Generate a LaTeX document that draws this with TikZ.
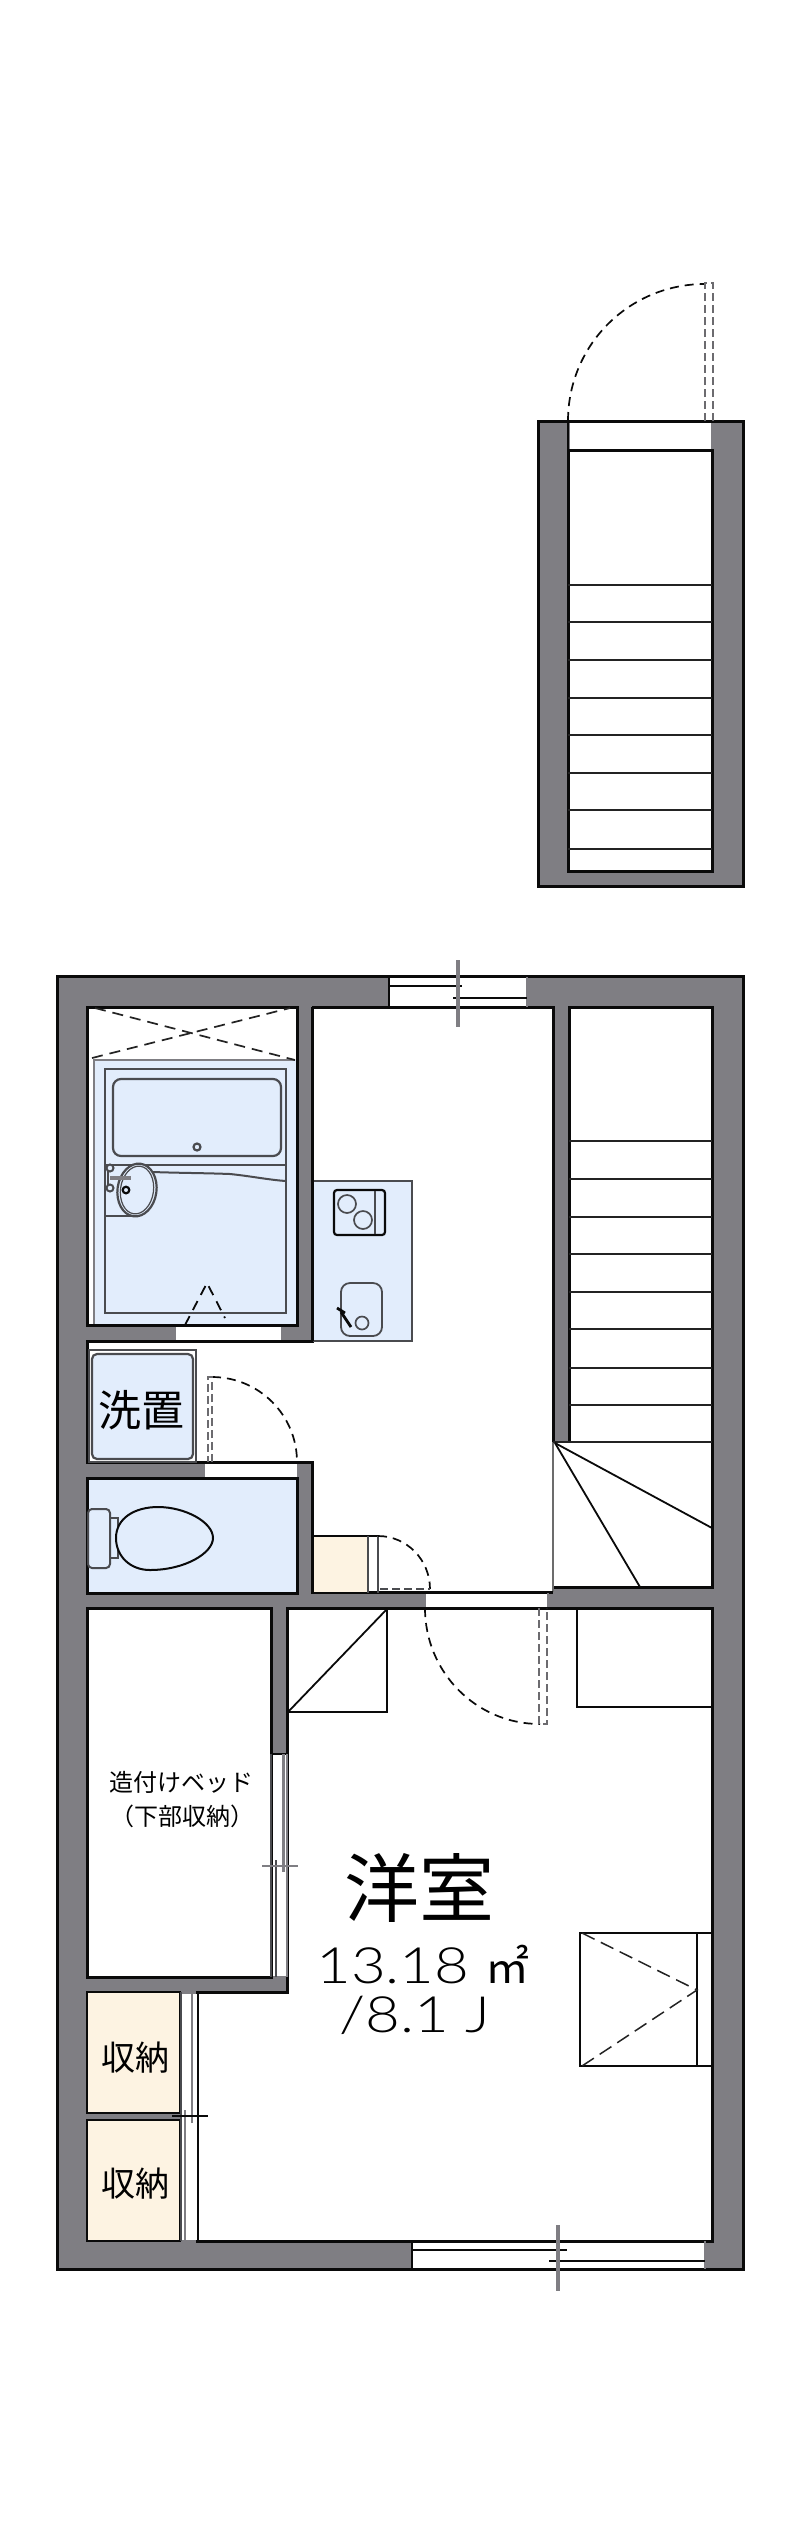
\documentclass[tikz,border=0pt]{standalone}
\usepackage{fontspec}
\newfontfamily\cjk{Noto Sans CJK JP}
\setmainfont{DejaVu Sans}
\newfontfamily\numf[FakeStretch=1.2]{Lato Light}
\definecolor{wallc}{HTML}{7F7E83}
\definecolor{bluec}{HTML}{E2EDFC}
\definecolor{beigec}{HTML}{FDF3E2}
\definecolor{linec}{HTML}{0A0A0A}
\definecolor{fixc}{HTML}{4A4B4F}
\tikzset{
  wallfill/.style={fill=wallc,draw=linec,line width=3pt,line join=miter},
  room/.style={fill=white,draw=linec,line width=3pt,line join=miter},
  bluerm/.style={fill=bluec,draw=linec,line width=3pt},
  beigerm/.style={fill=beigec,draw=linec,line width=2.4pt},
  opening/.style={fill=white,draw=none},
  thin line/.style={draw=linec,line width=1.8pt},
  tread/.style={draw=linec!90!white,line width=1.8pt},
  fixture/.style={draw=fixc,line width=2pt},
  ticks/.style={draw=wallc,line width=3.2pt},
  swing/.style={draw=linec,line width=1.7pt,dash pattern=on 9pt off 6pt},
  leaf/.style={draw=wallc!85!black,line width=2.4pt,dash pattern=on 8pt off 4pt},
  cross/.style={draw=linec!90!white,line width=1.7pt,dash pattern=on 11pt off 7pt},
  label/.style={inner sep=0pt,text=black,font=\cjk}
}
\begin{document}
\begin{tikzpicture}[x=1pt,y=-1pt]
\useasboundingbox (0,0) rectangle (800,2541);
\fill[white] (0,0) rectangle (800,2541);

% ---------- upper stair ----------
\filldraw[wallfill] (538,421) rectangle (743,886);
\filldraw[room] (568,450) rectangle (712,871);
\fill[opening] (569.5,422.5) rectangle (710.5,448.5);
\draw[draw=linec,line width=1.4pt] (568,421) -- (568,450);
\draw[draw=linec,line width=1.4pt,dash pattern=on 12pt off 2pt] (568,421) -- (712,421);
\foreach \y in {585,622,660,698,735,773,810,849} \draw[tread] (568,\y) -- (712,\y);
\draw[swing] (568,421) .. controls (568,345) and (629,284) .. (705,284);
\draw[leaf] (705,421) -- (705,283) -- (713,283) -- (713,421);

% ---------- main outline ----------
\filldraw[wallfill] (57,976) rectangle (743,2269);

% bath room
\filldraw[room] (87,1007) rectangle (297,1325);
% corridor
\fill[white] (312,1007) -- (553,1007) -- (553,1592) -- (312,1592) -- (312,1462) -- (87,1462) -- (87,1341) -- (312,1341) -- cycle;
\draw[draw=linec,line width=3pt] (312,1007) -- (553,1007) -- (553,1442);
\draw[draw=linec,line width=3pt] (312,1007) -- (312,1341) -- (87,1341) -- (87,1462) -- (297,1462);
\draw[draw=linec,line width=3pt] (297,1462) -- (312,1462) -- (312,1592) -- (553,1592);
% stair
\fill[white] (569,1007) -- (712,1007) -- (712,1587) -- (553,1587) -- (553,1442) -- (569,1442) -- cycle;
\draw[draw=linec,line width=3pt] (553,1587) -- (712,1587) -- (712,1007) -- (569,1007) -- (569,1442);
\draw[draw=linec!60!white,line width=1.8pt] (553,1442) -- (553,1592);
\foreach \y in {1141,1179,1217,1254,1292,1329,1368,1405,1442} \draw[tread] (569,\y) -- (712,\y);
\draw[tread] (553,1442) -- (569,1442);
\draw[thin line] (555,1443) -- (712,1528);
\draw[thin line] (555,1443) -- (640,1587);

% toilet room
\filldraw[bluerm] (87,1478) rectangle (297,1593);
% bedroom
\filldraw[room] (287,1608) -- (712,1608) -- (712,2241) -- (197,2241) -- (197,1992) -- (287,1992) -- cycle;
% bed
\filldraw[room] (87,1608) rectangle (271,1977);
% storages
\filldraw[beigerm] (87,1992) rectangle (180,2113);
\filldraw[beigerm] (87,2120) rectangle (180,2241);

% ---------- openings ----------
% top window
\fill[opening] (389,978) rectangle (527,1005.5);
\draw[draw=linec,line width=1.5pt] (389,977) -- (389,1007);
\draw[draw=wallc,line width=1.5pt] (527,977) -- (527,1007);
\draw[draw=linec,line width=1.6pt] (389,986) -- (462,986);
\draw[draw=linec,line width=1.6pt] (453,998) -- (527,998);
\draw[ticks] (458,960) -- (458,1027);
% bath door gap
\fill[opening] (176,1326.5) rectangle (281,1339.5);
% wash door gap
\fill[opening] (205,1463.5) rectangle (297,1476.5);
% main door gap
\fill[opening] (426,1593.5) rectangle (548,1606.5);
\draw[draw=wallc,line width=1.5pt] (548,1593) -- (548,1607);
\draw[draw=linec,line width=2pt] (426,1592) -- (553,1592);
\draw[draw=linec,line width=2pt] (426,1608) -- (548,1608);
% closet sliding gap
\fill[opening] (272.5,1754) rectangle (287.5,1975.5);
\draw[draw=linec,line width=2.4pt] (271,1754) -- (287,1754);
\draw[draw=fixc,line width=1.7pt] (271,1754) -- (271,1977);
\draw[draw=wallc,line width=1.4pt] (287,1754) -- (287,1977);
\draw[draw=wallc,line width=3pt] (283,1754) -- (283,1872);
\draw[draw=fixc,line width=1.6pt] (276,1860) -- (276,1977);
\draw[draw=wallc,line width=2pt] (262,1866) -- (298,1866);
% storage sliding gap
\fill[opening] (181.5,1993.5) rectangle (196.5,2239.5);
\draw[draw=fixc,line width=1.8pt] (181,1992) -- (181,2241);
\draw[draw=wallc,line width=2.6pt] (185,2110) -- (185,2241);
\draw[draw=wallc,line width=2.6pt] (192,1992) -- (192,2123);
\draw[draw=linec,line width=1.8pt] (172,2116) -- (208,2116);
% bottom window
\fill[opening] (412,2242.5) rectangle (705,2267.5);
\draw[draw=linec,line width=1.6pt] (412,2241) -- (412,2269);
\draw[draw=wallc,line width=1.6pt] (705,2241) -- (705,2269);
\draw[draw=linec,line width=1.6pt] (412,2250) -- (567,2250);
\draw[draw=linec,line width=1.6pt] (549,2261) -- (705,2261);
\draw[ticks] (558,2225) -- (558,2291);

% ---------- bath fixtures ----------
\fill[bluec] (94,1060) rectangle (295.5,1323.5);
\draw[draw=wallc,line width=2.2pt] (295,1060) -- (94,1060) -- (94,1324);
\draw[cross] (92,1058) -- (290,1008);
\draw[cross] (95,1008) -- (295,1060);
\draw[fixture,line width=2.2pt] (105,1069) rectangle (286,1313);
\draw[fixture,line width=2.2pt,rounded corners=8pt] (113,1079) rectangle (281,1156);
\draw[fixture,line width=2.2pt] (197,1147) circle (3.5);
\draw[fixture] (105,1165) -- (286,1165);
\draw[fixture] (153,1172) .. controls (180,1173) and (205,1173) .. (230,1174) .. controls (250,1176) and (270,1180) .. (286,1181);
\draw[fixture] (105,1216) -- (137,1216);
\draw[fixture,line width=2.2pt,fill=bluec,rotate around={-8:(137,1190)}] (137,1190) ellipse (19.5 and 26.5);
\draw[fixture,line width=1.2pt,rotate around={-8:(137,1190)}] (137,1190) ellipse (16.5 and 24);
\draw[draw=wallc,line width=4pt] (110,1178) -- (131,1178);
\draw[fixture,line width=2pt] (108,1168) -- (108,1188);
\draw[fixture,fill=bluec] (110,1168) circle (3.5);
\draw[fixture,fill=bluec] (110,1188) circle (3.5);
\draw[draw=linec,line width=2.2pt] (126,1190) circle (3.3);
\draw[draw=linec,line width=1.8pt,dash pattern=on 10pt off 7pt] (185,1325) -- (207,1283) -- (225,1318);

% ---------- kitchen ----------
\filldraw[fill=bluec,draw=fixc,line width=1.6pt] (313,1181) -- (412,1181) -- (412,1341) -- (313,1341);
\draw[draw=linec,line width=3pt] (312,1170) -- (312,1341);
\draw[draw=linec,line width=2.2pt,rounded corners=3pt] (334,1190) rectangle (385,1235);
\draw[draw=fixc,line width=1.8pt] (375,1191) -- (375,1234);
\draw[fixture,line width=1.7pt] (347,1204) circle (9);
\draw[fixture,line width=1.7pt] (363,1220) circle (9);
\draw[fixture,line width=1.8pt,rounded corners=9pt] (341,1283) rectangle (382,1336);
\draw[fixture,line width=1.7pt] (362,1323) circle (6.5);
\draw[draw=linec,line width=2.8pt] (341,1312) -- (351,1327);
\draw[draw=linec,line width=2.8pt] (337,1308) -- (345,1313);

% ---------- washer pan ----------
\draw[draw=fixc,fill=white,line width=1.2pt] (89,1350) rectangle (196,1462);
\filldraw[fill=bluec,draw=fixc,line width=2.2pt,rounded corners=5pt] (92,1354) rectangle (193,1459);
\node[label,font=\cjk\fontsize{43}{43}\selectfont] (wash) at (141,1410) {洗置};
% wash door
\draw[swing] (212,1377) .. controls (259,1377) and (297,1415) .. (297,1462);
\draw[leaf] (212,1462) -- (212,1377) -- (208,1377) -- (208,1462);

% ---------- toilet ----------
\draw[fixture,fill=bluec] (110,1518) rectangle (118,1558);
\draw[draw=fixc,line width=2pt,fill=bluec,rounded corners=4pt] (88,1509) rectangle (110,1568);
\draw[draw=linec,line width=2pt,fill=bluec] (116,1538) .. controls (116,1518) and (135,1507) .. (158,1507) .. controls (185,1507) and (213,1522) .. (213,1538) .. controls (213,1553) and (185,1570) .. (150,1570) .. controls (130,1570) and (116,1556) .. (116,1538) -- cycle;

% ---------- closet by the door ----------
\fill[beigec] (313.5,1537) rectangle (368,1591.5);
\draw[draw=linec,line width=1.8pt] (312,1536) -- (378,1536);
\draw[draw=fixc,line width=1.7pt] (368,1536) -- (368,1593);
\draw[draw=fixc,line width=1.7pt] (378,1536) -- (378,1593);
\draw[swing] (378,1536) .. controls (407,1536) and (430,1560) .. (430,1589);
\draw[leaf,draw=fixc] (380,1589) -- (430,1589);

% ---------- bedroom fixtures ----------
\draw[swing] (425,1608) .. controls (425,1672) and (476,1724) .. (540,1724);
\draw[leaf,line width=2.6pt] (539,1608) -- (539,1724) -- (547,1724) -- (547,1608);
\draw[thin line] (577,1608) -- (577,1707) -- (712,1707);
\draw[thin line] (387,1608) -- (387,1712) -- (288,1712);
\draw[thin line] (387,1609) -- (288,1712);
\draw[thin line] (580,1933) rectangle (712,2066);
\draw[thin line] (697,1933) -- (697,2066);
\draw[cross,dash pattern=on 14pt off 7pt,line width=1.5pt] (582,1933) -- (697,1990) -- (582,2066);

% ---------- labels ----------
\node[label,font=\cjk\fontsize{24}{24}\selectfont] (bedtop) at (181,1782) {造付けベッド};
\node[label,font=\cjk\fontsize{24}{24}\selectfont] (bedlow) at (182,1816) {（下部収納）};
\node[label,font=\cjk\fontsize{34}{34}\selectfont] (st1) at (135,2058) {収納};
\node[label,font=\cjk\fontsize{34}{34}\selectfont] (st2) at (135,2184) {収納};
\node[label,font=\cjk\fontsize{75}{75}\selectfont] (yoshitsu) at (419,1888) {洋室};
\node[label,font=\numf\fontsize{50}{50}\selectfont] (area) at (423,1964) {13.18 {\cjk\fontsize{44}{44}\selectfont ㎡}};
\node[label,font=\numf\fontsize{50}{50}\selectfont] (jo) at (415,2015) {/8.1 J};
\end{tikzpicture}
\end{document}
